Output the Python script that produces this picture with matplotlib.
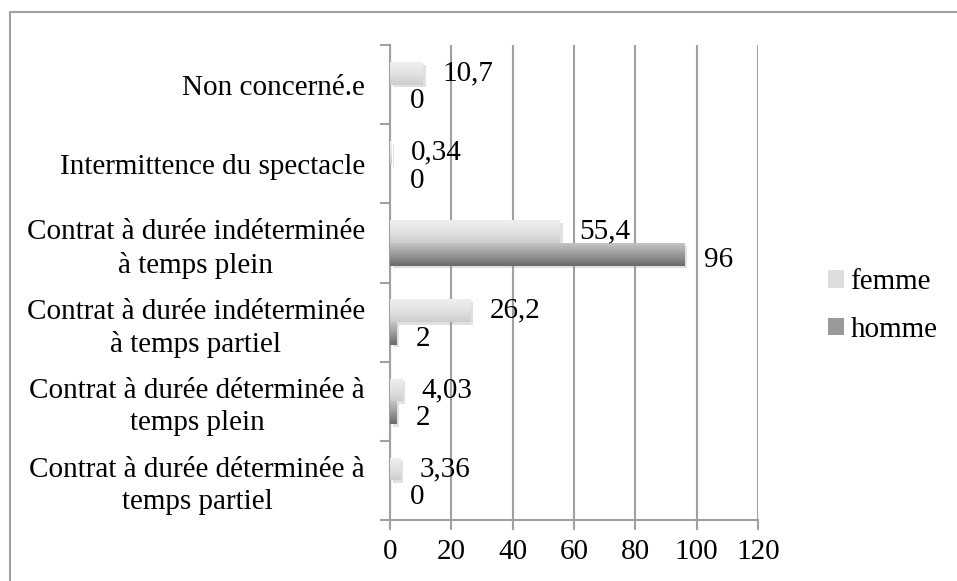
import numpy as np
import matplotlib
matplotlib.use("Agg")
import matplotlib.pyplot as plt
from matplotlib.patches import Rectangle
from matplotlib import patheffects as pe
from matplotlib.colors import LinearSegmentedColormap

## DATA
categories = [
    "Non concerné.e",
    "Intermittence du spectacle",
    "Contrat à durée indéterminée\nà temps plein",
    "Contrat à durée indéterminée\nà temps partiel",
    "Contrat à durée déterminée à\ntemps plein",
    "Contrat à durée déterminée à\ntemps partiel",
]
femme = [10.7, 0.34, 55.4, 26.2, 4.03, 3.36]
homme = [0, 0, 96, 2, 2, 0]
femme_labels = ["10,7", "0,34", "55,4", "26,2", "4,03", "3,36"]
homme_labels = ["0", "0", "96", "2", "2", "0"]
xticks = [0, 20, 40, 60, 80, 100, 120]

plt.rcParams["font.family"] = ["Liberation Serif", "DejaVu Serif"]
FS = 21

fig = plt.figure(figsize=(9.57, 5.81), dpi=100)
# cadre du graphique (coupé à droite et en bas comme l'original)
fig.patches.append(Rectangle((10 / 957, -0.1), 1.2, 1 - 12 / 581 + 0.1,
                             transform=fig.transFigure, fill=False,
                             edgecolor="#a0a0a0", linewidth=1.5))
ax = fig.add_axes([390 / 957, 1 - 520 / 581, 368 / 957, 475 / 581])

n = len(categories)
ypos = np.arange(n)[::-1]  # première catégorie en haut
h = 1 / 3.5

cmap_f = LinearSegmentedColormap.from_list("f", ["#efefef", "#e2e2e2", "#cdcdcd"])
cmap_h = LinearSegmentedColormap.from_list("h", ["#c4c4c4", "#9a9a9a", "#6a6a6a"])
grad = np.linspace(0, 1, 64).reshape(-1, 1)

def draw_bars(vals, labels, yc, cmap, face, dy):
    bars = ax.barh(yc, vals, height=h, color=face, zorder=3,
                   path_effects=[pe.SimplePatchShadow(offset=(2, -2), shadow_rgbFace="#999999", alpha=0.3), pe.Normal()])
    for b, v, lab, y in zip(bars, vals, labels, yc):
        if v > 0:
            im = ax.imshow(grad, cmap=cmap, aspect="auto", zorder=4,
                           extent=[0, v, y - h / 2, y + h / 2], origin="upper")
            im.set_clip_path(b)
        ax.annotate(lab, (v, y), xytext=(14, dy), textcoords="offset points",
                    ha="left", va="center", fontsize=FS, zorder=5)

draw_bars(femme, femme_labels, ypos + h / 2, cmap_f, "#e0e0e0", 0)
draw_bars(homme, homme_labels, ypos - h / 2, cmap_h, "#9a9a9a", -4)

ax.set_xlim(0, 120)
ax.set_ylim(-0.5, n - 0.5)
ax.set_xticks(xticks)
ax.set_xticklabels([str(t) for t in xticks], fontsize=FS)
ax.xaxis.grid(True, color="#a0a0a0", linewidth=1.5, zorder=0)
ax.set_axisbelow(True)

ax.set_yticks(np.arange(n + 1) - 0.5)
ax.set_yticklabels([])
ax.set_yticks(ypos, minor=True)
ax.set_yticklabels(categories, minor=True, fontsize=FS, multialignment="center",
                   linespacing=1.3)
ax.tick_params(axis="y", which="minor", length=0, pad=18)
ax.tick_params(axis="y", which="major", length=7, width=1.5, color="#a0a0a0")
ax.tick_params(axis="x", length=7, width=1.5, color="#a0a0a0", pad=7)

for s in ["top", "right"]:
    ax.spines[s].set_visible(False)
for s in ["left", "bottom"]:
    ax.spines[s].set_color("#a0a0a0")
    ax.spines[s].set_linewidth(1.5)

hf = Rectangle((0, 0), 1, 1, facecolor="#dedede", edgecolor="none")
hh = Rectangle((0, 0), 1, 1, facecolor="#9a9a9a", edgecolor="none")
fig.legend([hf, hh], ["femme", "homme"], loc="center left",
           bbox_to_anchor=(808 / 957, 1 - 306 / 581), frameon=False,
           fontsize=FS, handlelength=0.55, handleheight=0.55,
           handletextpad=0.2, labelspacing=0.75, borderpad=0.2)

fig.savefig("out.png", dpi=100)
